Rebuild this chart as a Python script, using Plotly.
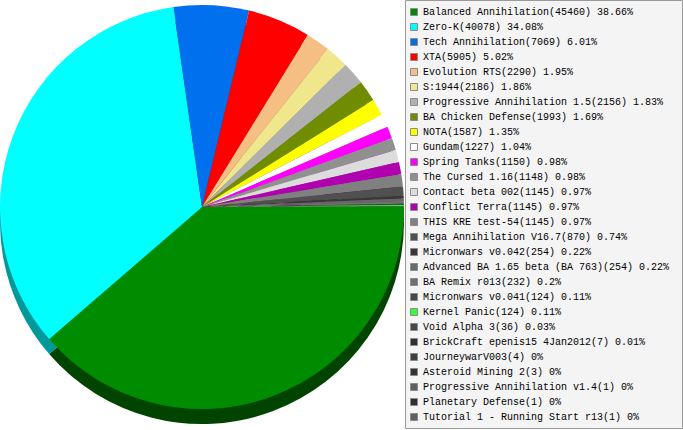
import plotly.graph_objects as go

W, H = 683, 430

names = [
    "Balanced Annihilation", "Zero-K", "Tech Annihilation", "XTA", "Evolution RTS",
    "S:1944", "Progressive Annihilation 1.5", "BA Chicken Defense", "NOTA", "Gundam",
    "Spring Tanks", "The Cursed 1.16", "Contact beta 002", "Conflict Terra",
    "THIS KRE test-54", "Mega Annihilation V16.7", "Micronwars v0.042",
    "Advanced BA 1.65 beta (BA 763)", "BA Remix r013", "Micronwars v0.041",
    "Kernel Panic", "Void Alpha 3", "BrickCraft epenis15 4Jan2012", "JourneywarV003",
    "Asteroid Mining 2", "Progressive Annihilation v1.4", "Planetary Defense",
    "Tutorial 1 - Running Start r13",
]
values = [45460, 40078, 7069, 5905, 2290, 2186, 2156, 1993, 1587, 1227, 1150, 1148,
          1145, 1145, 1145, 870, 254, 254, 232, 124, 124, 36, 7, 4, 3, 1, 1, 1]
percents = ["38.66", "34.08", "6.01", "5.02", "1.95", "1.86", "1.83", "1.69", "1.35",
            "1.04", "0.98", "0.98", "0.97", "0.97", "0.97", "0.74", "0.22", "0.22",
            "0.2", "0.11", "0.11", "0.03", "0.01", "0", "0", "0", "0", "0"]
colors = ["#008C00", "#00FFFF", "#0070EE", "#FF0000", "#F5BE82", "#F0E68C", "#B0B0B0",
          "#708C00", "#FFFF00", "#FFFFFF", "#FF00FF", "#909090", "#DCDCDC", "#B000B0",
          "#808080", "#505050", "#383838", "#686868", "#707070", "#484848", "#33FF33",
          "#484848", "#303030", "#404040", "#333333", "#606060", "#303030", "#606060"]


def darken(hx, f):
    r, g, b = int(hx[1:3], 16), int(hx[3:5], 16), int(hx[5:7], 16)
    return "#%02X%02X%02X" % (int(r * f), int(g * f), int(b * f))


side_colors = [darken(c, 0.6) for c in colors]
side_colors[0] = "#004400"

# pie geometry in pixels
cx, cy, rad, depth = 202, 207, 202, 15


def dom(cy_px):
    return dict(x=[(cx - rad) / W, (cx + rad) / W],
                y=[(H - cy_px - rad) / H, (H - cy_px + rad) / H])


fig = go.Figure()
common = dict(labels=names, values=values, sort=False, direction="clockwise",
              rotation=90, textinfo="none", hoverinfo="label+value+percent",
              showlegend=False)
fig.add_trace(go.Pie(domain=dom(cy + depth), marker=dict(colors=side_colors, line=dict(width=0)), **common))
fig.add_trace(go.Pie(domain=dom(cy), marker=dict(colors=colors, line=dict(width=0)), **common))


def px(x):
    return x / W


def py(y):
    return 1 - y / H


shapes = [dict(type="rect", xref="paper", yref="paper", x0=px(405.5), x1=px(682.5),
               y0=py(0.5), y1=py(428.5), fillcolor="#F4F4F4",
               line=dict(color="#9A9A9A", width=1), layer="above")]
annotations = []
row0, step = 12, 15
for i, (n, v, p, c) in enumerate(zip(names, values, percents, colors)):
    yc = row0 + i * step
    shapes.append(dict(type="rect", xref="paper", yref="paper", x0=px(410.5), x1=px(417.5),
                       y0=py(yc - 3.5), y1=py(yc + 3.5), fillcolor=c,
                       line=dict(color="#8C8C8C", width=1), layer="above"))
    annotations.append(dict(xref="paper", yref="paper", x=px(420.5), y=py(yc + 0.5),
                            xanchor="left", yanchor="middle", showarrow=False,
                            text=f"{n}({v}) {p}%",
                            font=dict(family="'Liberation Mono', 'DejaVu Sans Mono', monospace",
                                      size=10, color="#000000")))

fig.update_layout(width=W, height=H, margin=dict(l=0, r=0, t=0, b=0),
                  paper_bgcolor="#FFFFFF", plot_bgcolor="#FFFFFF",
                  shapes=shapes, annotations=annotations, showlegend=False)

fig.write_html("out.html", config={"displayModeBar": False},
               post_script="document.body.style.margin='0px';")
